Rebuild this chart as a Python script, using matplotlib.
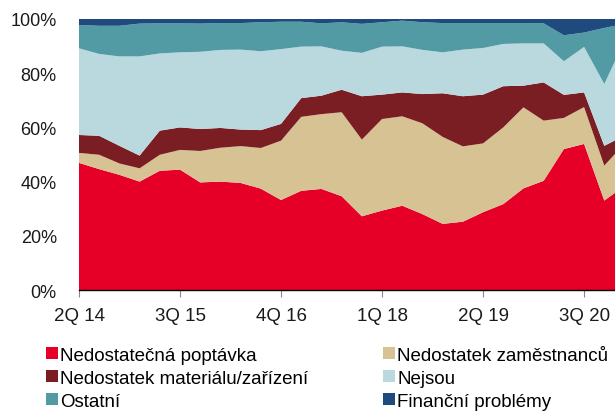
# Stacked area chart: obstacles to growth (shares of firms)
# -----------------------------------------------------------------------------

import numpy as np
import matplotlib.pyplot as plt
from matplotlib.patches import Patch


# Data
# -----------------------------------------------------------------------------

tick_labels = ["2Q 14", "3Q 15", "4Q 16", "1Q 18", "2Q 19", "3Q 20"]
tick_idx = [0, 5, 10, 15, 20, 25]

poptavka = [46.9, 44.6, 42.5, 40.0, 44.0, 44.4, 39.7, 40.0, 39.5, 37.4,
            33.2, 36.6, 37.3, 34.6, 27.2, 29.3, 31.1, 28.0, 24.4, 25.2,
            28.7, 31.7, 37.5, 40.3, 52.0, 53.9, 33.0, 38.4]
zamestnanci = [3.7, 5.3, 4.2, 4.9, 5.9, 7.3, 11.6, 12.5, 13.6, 15.0,
               21.9, 27.3, 27.6, 31.0, 28.3, 33.8, 33.0, 33.5, 32.1, 27.8,
               25.4, 28.3, 29.9, 22.2, 11.5, 13.6, 12.9, 15.6]
material = [6.6, 7.0, 6.5, 4.7, 8.9, 8.3, 8.1, 7.3, 6.1, 6.6,
            6.2, 6.9, 6.8, 8.3, 16.0, 9.0, 8.8, 10.8, 16.1, 18.5,
            18.0, 15.2, 8.0, 14.1, 8.5, 5.4, 7.3, 3.0]
nejsou = [32.0, 30.2, 33.0, 36.6, 28.5, 27.7, 28.5, 28.8, 29.5, 29.1,
          27.6, 19.0, 18.2, 14.4, 16.0, 17.7, 17.0, 16.3, 15.1, 17.2,
          17.2, 15.6, 15.6, 14.4, 12.4, 16.8, 22.8, 35.0]
ostatni = [8.6, 10.4, 11.3, 12.1, 11.1, 10.7, 10.4, 9.9, 9.8, 10.7,
           10.1, 9.2, 8.5, 10.5, 10.7, 9.0, 9.5, 10.2, 10.8, 9.8,
           9.2, 7.7, 7.5, 7.4, 9.6, 5.3, 20.7, 6.2]
financni = [2.2, 2.5, 2.5, 1.7, 1.6, 1.6, 1.7, 1.5, 1.5, 1.2,
            1.0, 1.0, 1.6, 1.2, 1.8, 1.2, 0.6, 1.2, 1.5, 1.5,
            1.5, 1.5, 1.5, 1.6, 6.0, 5.0, 3.3, 1.8]

labels = ["Nedostatečná poptávka", "Nedostatek zaměstnanců",
          "Nedostatek materiálu/zařízení", "Nejsou", "Ostatní",
          "Finanční problémy"]
colors = ["#E60028", "#D6C293", "#7B1E24", "#B9D9DE", "#529BA4", "#1E4A7E"]


# Plot
# -----------------------------------------------------------------------------

plt.rcParams['font.family'] = ['Liberation Sans', 'DejaVu Sans']

fig = plt.figure(figsize=(6.15, 4.14), dpi=100)
ax = fig.add_axes([79/615, 123/414, 1 - 79/615, 271/414])

series = [poptavka, zamestnanci, material, nejsou, ostatni, financni]
x = np.arange(len(poptavka))
ax.stackplot(x, *series, colors=colors, linewidth=0)

ax.set_xlim(0, 26.53)
ax.set_ylim(0, 100)
ax.set_xticks(tick_idx)
ax.set_xticklabels(tick_labels, fontsize=13.5, color="#1a1a1a")
ax.set_yticks(range(0, 101, 20))
ax.set_yticklabels([f"{v}%" for v in range(0, 101, 20)], fontsize=13,
                   color="#1a1a1a")
ax.tick_params(axis="x", length=5, color="#888888", pad=7)
ax.tick_params(axis="y", length=0, pad=16)
for side in ["top", "right", "left"]:
    ax.spines[side].set_visible(False)
ax.spines["bottom"].set_color("black")
ax.spines["bottom"].set_linewidth(1.0)


# Legend: two columns, each placed on its own
# -----------------------------------------------------------------------------

def add_legend(idx, x_px):
    handles = [Patch(facecolor=colors[i], edgecolor="none") for i in idx]
    leg = fig.legend(handles, [labels[i] for i in idx], loc="upper left",
                     bbox_to_anchor=(x_px/615, 1 - 348/414), frameon=False,
                     fontsize=13.5, handlelength=0.64, handleheight=0.6,
                     handletextpad=0.12, labelspacing=0.32,
                     borderaxespad=0, borderpad=0)
    return(leg)


add_legend([0, 2, 4], 46)
add_legend([1, 3, 5], 383)

fig.savefig("out.png", dpi=100)
